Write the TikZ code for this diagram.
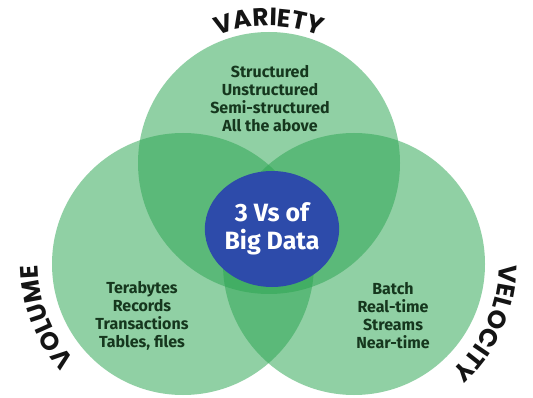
\documentclass[tikz,border=0pt]{standalone}
\usepackage{fontspec}
\setmainfont{Fira Sans}
\newfontfamily\labelfont{Poppins}
\usetikzlibrary{decorations.text,shapes.geometric}
\definecolor{vennGreen}{RGB}{44,165,82}
\definecolor{coreBlue}{RGB}{45,75,170}
\definecolor{listGreen}{RGB}{22,55,30}
\definecolor{labelBlack}{RGB}{20,20,20}
\begin{document}
\begin{tikzpicture}[x=1pt,y=1pt,
    venn/.style={fill=vennGreen,fill opacity=0.52},
    core/.style={ellipse,fill=coreBlue,minimum width=126pt,minimum height=116pt,
      inner sep=0pt,align=center,text=white,
      font=\bfseries\fontsize{25}{28}\selectfont},
    items/.style={align=center,text=listGreen,
      font=\bfseries\fontsize{16}{18}\selectfont},
    vlabel/.style={decorate,decoration={text along path,text align=center,
      text color=labelBlack,
      text={|\labelfont\bfseries\fontsize{25}{25}\selectfont|#1}}}]
  \useasboundingbox[fill=white] (0,0) rectangle (533,397);
  % circle centres
  \coordinate (T) at (269,234);
  \coordinate (L) at (183,133);
  \coordinate (R) at (354,133);
  \foreach \c in {T,L,R}{
    \fill[venn] (\c) circle[radius=131pt];
  }
  % centre
  \node[core] (core) at (272,168) {3 Vs of\\Big Data};
  % lists
  \node[items] (varietyItems) at (270,298) {Structured\\Unstructured\\Semi-structured\\All the above};
  \node[items] (volumeItems) at (142,81) {Terabytes\\Records\\Transactions\\Tables, files};
  \node[items] (velocityItems) at (393,81) {Batch\\Real-time\\Streams\\Near-time};
  % curved labels
  \path[vlabel=VARIETY] ([shift={(135:137pt)}]T) arc[start angle=135,end angle=45,radius=137pt];
  \path[vlabel=VOLUME] ([shift={(246:145pt)}]L) arc[start angle=246,end angle=156,radius=145pt];
  \path[vlabel=VELOCITY] ([shift={(21:145pt)}]R) arc[start angle=21,end angle=-69,radius=145pt];
\end{tikzpicture}
\end{document}
